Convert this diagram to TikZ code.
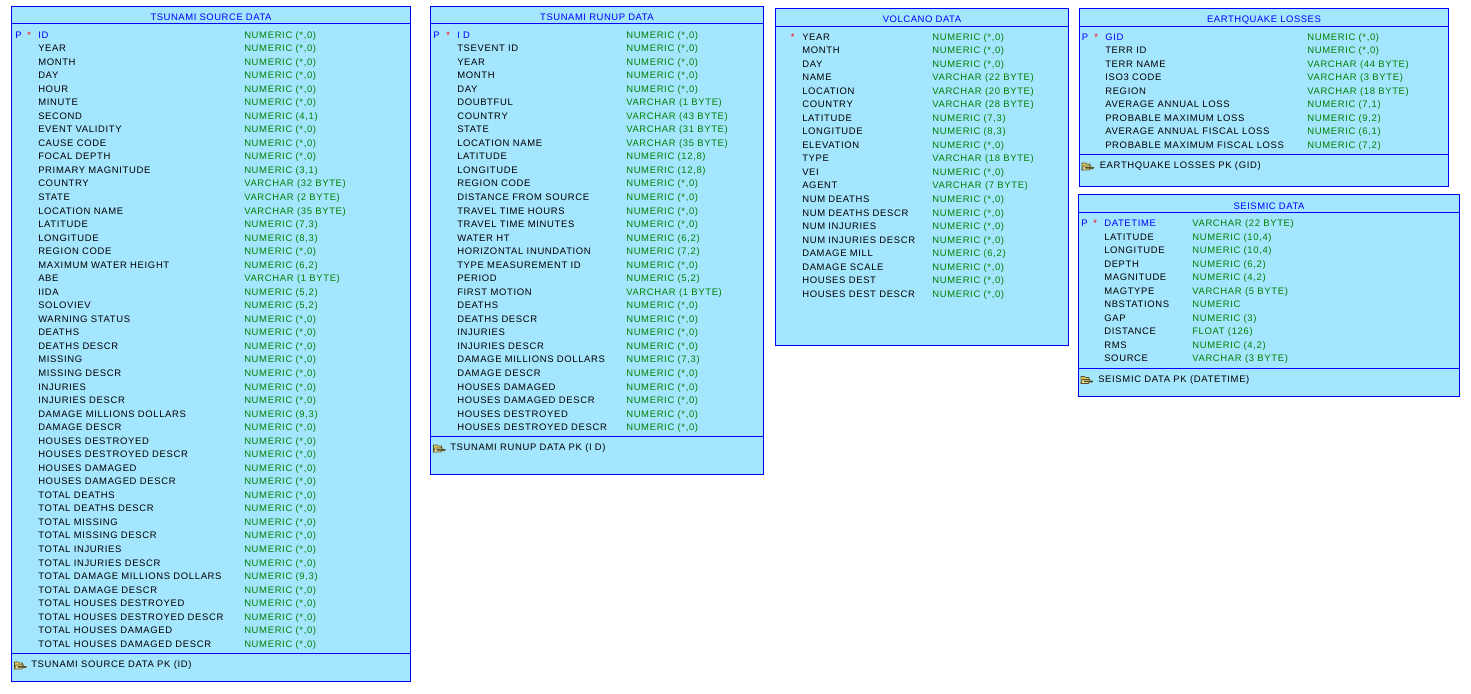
\documentclass[tikz,border=0pt]{standalone}
\usepackage{fontspec}
\setmainfont[LetterSpace=6.9]{Liberation Sans}
\newfontfamily\titlefont[LetterSpace=5.8]{Liberation Sans}

\definecolor{tablefill}{HTML}{A5E6FF}
\definecolor{typegreen}{HTML}{008000}
\definecolor{keyyellow}{HTML}{E0CC60}
\definecolor{keydark}{HTML}{55502A}

\tikzset{
    tablebox/.style={draw=blue,fill=tablefill,line width=0.75pt},
    tablerule/.style={draw=blue,line width=0.75pt},
    every node/.style={font=\fontsize{7.1}{8}\selectfont,inner sep=0pt},
    title/.style={anchor=base,text=blue,font=\fontsize{7.1}{8}\selectfont\titlefont},
    colname/.style={anchor=base west,text=black},
    pkname/.style={anchor=base west,text=blue},
    coltype/.style={anchor=base west,text=typegreen},
    pkmark/.style={anchor=base west,text=blue},
    notnull/.style={anchor=base west,text=red},
    keyname/.style={anchor=base west,text=black}
}

\def\numz{NUMERIC (*,0)}

% box, title and rules: key, title, x0, y0, x1, y1, y of header rule, y of title base
\newcommand{\ertable}[8]{
    \draw[tablebox] (#3,#4) rectangle (#5,#6);
    \draw[tablerule] (#3,#7) -- (#5,#7);
    \node[title] (#1-title) at ({(#3+#5)/2},#8) {#2};
}

% rows after the first one: key, x of names, x of types, y of first base, list
\newcommand{\errows}[5]{
    \foreach \cname/\ctype [count=\i] in {#5} {
        \node[colname] (#1-\i-name) at (#2,{#4+\i*13.54}) {\cname};
        \node[coltype] (#1-\i-type) at (#3,{#4+\i*13.54}) {\ctype};
    }
}

% footer: key, x0, x1, y of rule, x of icon, x of text, y of text base, text
\newcommand{\erfooter}[8]{
    \draw[tablerule] (#2,#4) -- (#3,#4);
    \begin{scope}[shift={(#5,#7)}]
        \fill[keyyellow,draw=keydark,line width=0.45pt] (0,-5.5) -- (3.5,-5.5) -- (4.5,-4.5) -- (8,-4.5) -- (8,-3) -- (0,1.5) -- cycle;
        \fill[keyyellow!60!white,draw=keydark,line width=0.45pt] (0,1.5) -- (1.5,-2.5) -- (9,-2.5) -- (7.5,1.5) -- cycle;
        \fill[keydark] (3,-1.4) -- (12,-1.4) -- (12,-0.4) -- (10.5,0.8) -- (9.5,0) -- (8.5,0.8) -- (7.5,0) -- (3,0) -- cycle;
    \end{scope}
    \node[keyname] (#1-pk) at (#6,#7) {#8};
}

\begin{document}
\begin{tikzpicture}[x=0.75pt,y=-0.75pt]
    \useasboundingbox (0,0) rectangle (1471,693);

    \ertable{source}{TSUNAMI SOURCE DATA}{11.5}{6.5}{410.5}{681.5}{23.5}{20}
    \node[pkmark] (source-p) at (15,38) {P};
    \node[notnull] (source-star) at (27,38) {*};
    \node[pkname] (source-0-name) at (38,38) {ID};
    \node[coltype] (source-0-type) at (244,38) {\numz};
    \errows{source}{38}{244}{38}{
        YEAR/\numz, MONTH/\numz, DAY/\numz, HOUR/\numz, MINUTE/\numz,
        SECOND/{NUMERIC (4,1)}, EVENT VALIDITY/\numz, CAUSE CODE/\numz, FOCAL DEPTH/\numz,
        PRIMARY MAGNITUDE/{NUMERIC (3,1)}, COUNTRY/VARCHAR (32 BYTE), STATE/VARCHAR (2 BYTE),
        LOCATION NAME/VARCHAR (35 BYTE), LATITUDE/{NUMERIC (7,3)}, LONGITUDE/{NUMERIC (8,3)},
        REGION CODE/\numz, MAXIMUM WATER HEIGHT/{NUMERIC (6,2)}, ABE/VARCHAR (1 BYTE),
        IIDA/{NUMERIC (5,2)}, SOLOVIEV/{NUMERIC (5,2)}, WARNING STATUS/\numz, DEATHS/\numz,
        DEATHS DESCR/\numz, MISSING/\numz, MISSING DESCR/\numz, INJURIES/\numz, INJURIES DESCR/\numz,
        DAMAGE MILLIONS DOLLARS/{NUMERIC (9,3)}, DAMAGE DESCR/\numz, HOUSES DESTROYED/\numz,
        HOUSES DESTROYED DESCR/\numz, HOUSES DAMAGED/\numz, HOUSES DAMAGED DESCR/\numz,
        TOTAL DEATHS/\numz, TOTAL DEATHS DESCR/\numz, TOTAL MISSING/\numz, TOTAL MISSING DESCR/\numz,
        TOTAL INJURIES/\numz, TOTAL INJURIES DESCR/\numz, TOTAL DAMAGE MILLIONS DOLLARS/{NUMERIC (9,3)},
        TOTAL DAMAGE DESCR/\numz, TOTAL HOUSES DESTROYED/\numz, TOTAL HOUSES DESTROYED DESCR/\numz,
        TOTAL HOUSES DAMAGED/\numz, TOTAL HOUSES DAMAGED DESCR/\numz}
    \erfooter{source}{11.5}{410.5}{653.5}{14.5}{31}{667.5}{TSUNAMI SOURCE DATA PK (ID)}

    \ertable{runup}{TSUNAMI RUNUP DATA}{430.5}{6.5}{763.5}{474}{23.5}{20}
    \node[pkmark] (runup-p) at (433,38) {P};
    \node[notnull] (runup-star) at (446,38) {*};
    \node[pkname] (runup-0-name) at (457,38) {I D};
    \node[coltype] (runup-0-type) at (626,38) {\numz};
    \errows{runup}{457}{626}{38}{
        TSEVENT ID/\numz, YEAR/\numz, MONTH/\numz, DAY/\numz, DOUBTFUL/VARCHAR (1 BYTE),
        COUNTRY/VARCHAR (43 BYTE), STATE/VARCHAR (31 BYTE), LOCATION NAME/VARCHAR (35 BYTE),
        LATITUDE/{NUMERIC (12,8)}, LONGITUDE/{NUMERIC (12,8)}, REGION CODE/\numz,
        DISTANCE FROM SOURCE/\numz, TRAVEL TIME HOURS/\numz, TRAVEL TIME MINUTES/\numz,
        WATER HT/{NUMERIC (6,2)}, HORIZONTAL INUNDATION/{NUMERIC (7,2)}, TYPE MEASUREMENT ID/\numz,
        PERIOD/{NUMERIC (5,2)}, FIRST MOTION/VARCHAR (1 BYTE), DEATHS/\numz, DEATHS DESCR/\numz,
        INJURIES/\numz, INJURIES DESCR/\numz, DAMAGE MILLIONS DOLLARS/{NUMERIC (7,3)},
        DAMAGE DESCR/\numz, HOUSES DAMAGED/\numz, HOUSES DAMAGED DESCR/\numz,
        HOUSES DESTROYED/\numz, HOUSES DESTROYED DESCR/\numz}
    \erfooter{runup}{430.5}{763.5}{436.5}{433.5}{450}{450.5}{TSUNAMI RUNUP DATA PK (I D)}

    \ertable{volcano}{VOLCANO DATA}{775.5}{8.5}{1068.5}{345.5}{26.5}{22.2}
    \node[notnull] (volcano-star) at (790.5,40) {*};
    \node[colname] (volcano-0-name) at (802,40) {YEAR};
    \node[coltype] (volcano-0-type) at (932,40) {\numz};
    \errows{volcano}{802}{932}{40}{
        MONTH/\numz, DAY/\numz, NAME/VARCHAR (22 BYTE), LOCATION/VARCHAR (20 BYTE),
        COUNTRY/VARCHAR (28 BYTE), LATITUDE/{NUMERIC (7,3)}, LONGITUDE/{NUMERIC (8,3)},
        ELEVATION/\numz, TYPE/VARCHAR (18 BYTE), VEI/\numz, AGENT/VARCHAR (7 BYTE),
        NUM DEATHS/\numz, NUM DEATHS DESCR/\numz, NUM INJURIES/\numz, NUM INJURIES DESCR/\numz,
        DAMAGE MILL/{NUMERIC (6,2)}, DAMAGE SCALE/\numz, HOUSES DEST/\numz, HOUSES DEST DESCR/\numz}

    \ertable{quake}{EARTHQUAKE LOSSES}{1079.5}{8.5}{1448.5}{186.5}{26.5}{22.2}
    \node[pkmark] (quake-p) at (1081.5,40) {P};
    \node[notnull] (quake-star) at (1094,40) {*};
    \node[pkname] (quake-0-name) at (1105,40) {GID};
    \node[coltype] (quake-0-type) at (1307,40) {\numz};
    \errows{quake}{1105}{1307}{40}{
        TERR ID/\numz, TERR NAME/VARCHAR (44 BYTE), ISO3 CODE/VARCHAR (3 BYTE),
        REGION/VARCHAR (18 BYTE), AVERAGE ANNUAL LOSS/{NUMERIC (7,1)},
        PROBABLE MAXIMUM LOSS/{NUMERIC (9,2)}, AVERAGE ANNUAL FISCAL LOSS/{NUMERIC (6,1)},
        PROBABLE MAXIMUM FISCAL LOSS/{NUMERIC (7,2)}}
    \erfooter{quake}{1079.5}{1448.5}{154.5}{1082}{1099.5}{168.5}{EARTHQUAKE LOSSES PK (GID)}

    \ertable{seismic}{SEISMIC DATA}{1078.5}{194.5}{1459.5}{396.5}{212.5}{209}
    \node[pkmark] (seismic-p) at (1081,226.5) {P};
    \node[notnull] (seismic-star) at (1093,226.5) {*};
    \node[pkname] (seismic-0-name) at (1104,226.5) {DATETIME};
    \node[coltype] (seismic-0-type) at (1192,226.5) {VARCHAR (22 BYTE)};
    \errows{seismic}{1104}{1192}{226.5}{
        LATITUDE/{NUMERIC (10,4)}, LONGITUDE/{NUMERIC (10,4)}, DEPTH/{NUMERIC (6,2)},
        MAGNITUDE/{NUMERIC (4,2)}, MAGTYPE/VARCHAR (5 BYTE), NBSTATIONS/NUMERIC, GAP/NUMERIC (3),
        DISTANCE/FLOAT (126), RMS/{NUMERIC (4,2)}, SOURCE/VARCHAR (3 BYTE)}
    \erfooter{seismic}{1078.5}{1459.5}{368.5}{1081}{1098}{382}{SEISMIC DATA PK (DATETIME)}
\end{tikzpicture}
\end{document}
